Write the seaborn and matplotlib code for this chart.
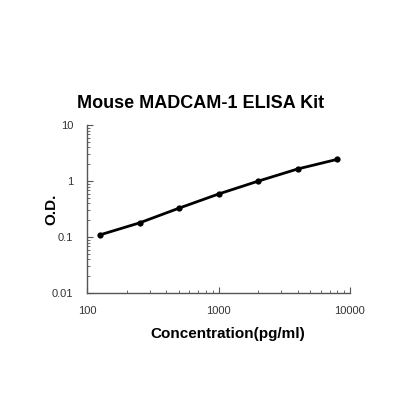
import matplotlib
matplotlib.use("Agg")
import matplotlib.pyplot as plt
import seaborn as sns
import pandas as pd
from matplotlib.ticker import LogLocator, FixedLocator, FixedFormatter, NullFormatter

concentration = [125, 250, 500, 1000, 2000, 4000, 8000]
od = [0.11, 0.18, 0.33, 0.59, 1.0, 1.65, 2.45]
x_ticks = [100, 1000, 10000]
x_tick_labels = ["100", "1000", "10000"]
y_ticks = [0.01, 0.1, 1, 10]
y_tick_labels = ["0.01", "0.1", "1", "10"]

sns.set_theme(style="white")
plt.rcParams['font.family'] = ['Liberation Sans', 'DejaVu Sans']

df = pd.DataFrame({"conc": concentration, "od": od})

fig = plt.figure(figsize=(4.2, 4.2), dpi=100)
ax = fig.add_axes([0.208, 0.302, 0.625, 0.400])
sns.lineplot(data=df, x="conc", y="od", ax=ax, color="black", linewidth=2,
             marker="o", markersize=4.5, markeredgewidth=0)
ax.set_xscale("log")
ax.set_yscale("log")
ax.set_xlim(100, 10000)
ax.set_ylim(0.01, 10)

ax.xaxis.set_major_locator(FixedLocator(x_ticks))
ax.xaxis.set_major_formatter(FixedFormatter(x_tick_labels))
ax.yaxis.set_major_locator(FixedLocator(y_ticks))
ax.yaxis.set_major_formatter(FixedFormatter(y_tick_labels))
ax.xaxis.set_minor_locator(LogLocator(base=10, subs=range(2, 10)))
ax.yaxis.set_minor_locator(LogLocator(base=10, subs=range(2, 10)))
ax.xaxis.set_minor_formatter(NullFormatter())
ax.yaxis.set_minor_formatter(NullFormatter())

for s in ["top", "right"]:
    ax.spines[s].set_visible(False)
for s in ["left", "bottom"]:
    ax.spines[s].set_color("#555555")
    ax.spines[s].set_linewidth(1.0)

ax.tick_params(which="both", direction="in", color="#555555", labelsize=8,
               labelcolor="#333333", left=True, bottom=True)
ax.tick_params(which="major", length=4, width=0.8)
ax.tick_params(which="minor", length=2.5, width=0.6)
ax.tick_params(axis="x", which="major", pad=9)
ax.tick_params(axis="y", which="major", pad=10)

ax.set_xlabel("Concentration(pg/ml)", fontsize=11, fontweight="bold", color="black")
ax.set_ylabel("O.D.", fontsize=11, fontweight="bold", color="black")
ax.xaxis.set_label_coords(0.535, -0.202)
ax.yaxis.set_label_coords(-0.112, 0.5)
fig.text(201 / 420, 1 - 104 / 420, "Mouse MADCAM-1 ELISA Kit", fontsize=13,
         fontweight="bold", color="black", ha="center", va="center")

fig.savefig("out.png", dpi=100)
